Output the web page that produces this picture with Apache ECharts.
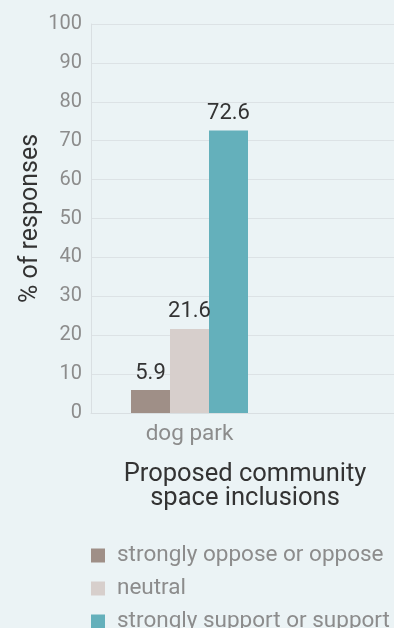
<!DOCTYPE html>
<html>
<head>
<meta charset="utf-8">
<script src="https://cdn.jsdelivr.net/npm/echarts@6/dist/echarts.min.js"></script>
<style>
  html, body { margin: 0; padding: 0; background: #ebf3f5; overflow: hidden; }
  /* the original chart is wider/taller than the window, so it is cropped */
  #chart { width: 485px; height: 660px; }
</style>
</head>
<body>
<div id="chart"></div>
<script>
// categories (second slot is empty, the plot runs past the right edge)
var categories = ['dog park', ''];
var seriesNames = ['strongly oppose or oppose', 'neutral', 'strongly support or support'];
var opposeVals = [5.9, null];
var neutralVals = [21.6, null];
var supportVals = [72.6, null];
var colors = ['#9f8f87', '#d7cfcc', '#64b0bb'];

var font = 'Roboto, "DejaVu Sans", sans-serif';
var chart = echarts.init(document.getElementById('chart'));

function barSeries(name, vals, color) {
  return {
    name: name,
    type: 'bar',
    data: vals,
    barWidth: 39,
    barGap: '0%',
    itemStyle: { color: color },
    label: {
      show: true,
      position: 'top',
      distance: 6,
      color: '#333333',
      fontSize: 22,
      fontFamily: font
    }
  };
}

var option = {
  backgroundColor: '#ebf3f5',
  animation: false,
  color: colors,
  grid: { left: 91, right: 0, top: 24, bottom: 247 },
  xAxis: {
    type: 'category',
    data: categories,
    axisLine: { show: true, lineStyle: { color: '#d9dfe2' } },
    axisTick: { show: false },
    axisLabel: { color: '#8c8c8c', fontSize: 22.5, fontFamily: font, margin: 10 }
  },
  yAxis: {
    type: 'value',
    min: 0,
    max: 100,
    interval: 10,
    name: '% of responses',
    nameLocation: 'middle',
    nameGap: 48,
    nameMoveOverlap: false,
    nameTextStyle: { color: '#333333', fontSize: 25, fontFamily: font },
    axisLine: { show: true, lineStyle: { color: '#d9dfe2' } },
    axisTick: { show: false },
    axisLabel: { color: '#8c8c8c', fontSize: 20, fontFamily: font, margin: 9 },
    splitLine: { lineStyle: { color: '#dce2e5' } }
  },
  graphic: [{
    type: 'text',
    x: 245,
    y: 463,
    style: {
      text: 'Proposed community\nspace inclusions',
      align: 'center',
      fill: '#333333',
      fontSize: 25.5,
      lineHeight: 24,
      fontFamily: font
    }
  }],
  legend: {
    orient: 'vertical',
    left: 91,
    top: 544,
    padding: 0,
    itemWidth: 14,
    itemHeight: 14,
    itemGap: 10,
    icon: 'rect',
    data: seriesNames,
    textStyle: {
      color: '#8c8c8c',
      fontSize: 22.5,
      lineHeight: 22,
      fontFamily: font,
      padding: [0, 0, 0, 7]
    }
  },
  series: [
    barSeries(seriesNames[0], opposeVals, colors[0]),
    barSeries(seriesNames[1], neutralVals, colors[1]),
    barSeries(seriesNames[2], supportVals, colors[2])
  ]
};

chart.setOption(option);
</script>
</body>
</html>
